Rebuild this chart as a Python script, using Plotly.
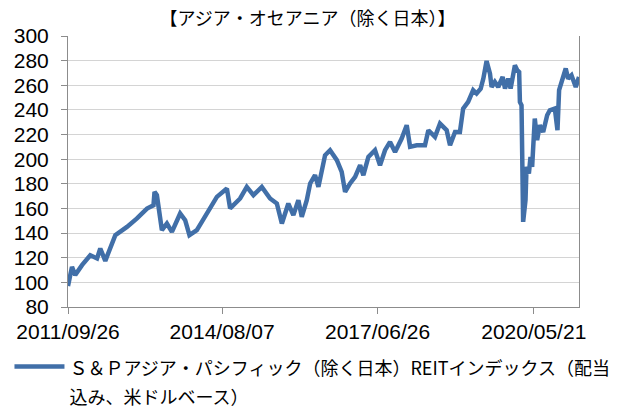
import plotly.graph_objects as go

title_text = "【アジア・オセアニア（除く日本）】"
legend_line1 = "Ｓ＆Ｐアジア・パシフィック（除く日本）REITインデックス（配当"
legend_line2 = "込み、米ドルベース）"

dates = [
    "2011-09-26", "2011-10-23", "2011-11-14", "2011-12-30", "2012-02-24", "2012-04-10",
    "2012-05-02", "2012-06-05", "2012-08-12", "2012-10-30", "2013-01-06", "2013-03-15",
    "2013-04-28", "2013-05-05", "2013-05-21", "2013-06-24", "2013-07-28", "2013-08-31",
    "2013-10-26", "2013-11-29", "2013-12-28", "2014-02-16", "2014-03-22", "2014-05-06",
    "2014-07-02", "2014-09-08", "2014-09-30", "2014-12-07", "2015-01-21", "2015-03-07",
    "2015-05-03", "2015-06-28", "2015-08-13", "2015-09-16", "2015-10-30", "2015-12-03",
    "2016-01-06", "2016-01-29", "2016-03-03", "2016-03-26", "2016-04-28", "2016-05-21",
    "2016-07-05", "2016-08-08", "2016-09-23", "2016-10-26", "2016-11-18", "2016-12-22",
    "2017-01-25", "2017-02-28", "2017-03-22", "2017-04-25", "2017-06-09", "2017-07-13",
    "2017-08-16", "2017-09-19", "2017-10-23", "2017-12-07", "2018-01-10", "2018-02-02",
    "2018-03-19", "2018-05-14", "2018-06-06", "2018-07-21", "2018-08-24", "2018-10-08",
    "2018-10-31", "2018-12-04",
    "2019-01-06", "2019-01-28", "2019-03-03", "2019-04-06", "2019-04-29", "2019-05-27",
    "2019-06-14", "2019-07-06", "2019-07-29", "2019-08-09", "2019-08-31", "2019-09-23",
    "2019-10-23", "2019-11-08", "2019-11-30", "2019-12-16", "2020-01-14", "2020-01-30",
    "2020-02-12", "2020-02-17", "2020-02-28", "2020-03-10", "2020-03-26", "2020-04-02",
    "2020-04-18", "2020-04-29", "2020-05-10", "2020-05-28", "2020-06-13", "2020-07-01",
    "2020-07-24", "2020-08-20", "2020-09-07", "2020-10-11", "2020-10-29", "2020-11-09",
    "2020-11-25", "2020-12-24", "2021-01-09", "2021-02-01", "2021-03-02", "2021-03-24",
]

index_values = [
    97.0, 112.6, 105.9, 114.0, 122.0, 119.4,
    127.5, 117.5, 138.3, 145.0, 151.9, 159.9,
    162.6, 173.5, 170.8, 142.4, 147.8, 141.0,
    155.9, 150.5, 138.3, 142.4, 149.1, 158.6,
    169.4, 176.2, 160.0, 168.1, 177.5, 170.8,
    177.5, 168.1, 164.0, 147.8, 164.0, 154.6,
    166.7, 153.2, 166.7, 180.3, 187.0, 177.5,
    203.2, 207.3, 199.2, 189.7, 173.5, 180.3,
    185.6, 195.1, 187.0, 201.8, 207.3, 195.1,
    207.3, 214.0, 205.9, 216.8, 227.6, 210.0,
    211.3, 211.3, 223.5, 218.1, 228.9, 223.5,
    211.3, 222.1,
    222.1, 241.1, 246.5, 256.0, 253.3, 257.3,
    265.4, 279.7, 269.5, 258.6, 262.7, 258.6,
    266.8, 257.3, 265.4, 257.3, 276.2, 272.2,
    270.8, 246.5, 243.8, 149.1, 166.7, 193.7,
    188.4, 201.8, 193.7, 233.0, 215.4, 227.6,
    222.1, 235.7, 239.7, 241.1, 223.5, 256.0,
    261.4, 273.6, 265.4, 268.1, 258.6, 266.8,
]

x_tick_dates = ["2011-09-26", "2014-08-07", "2017-06-26", "2020-05-21"]
x_tick_labels = ["2011/09/26", "2014/08/07", "2017/06/26", "2020/05/21"]
y_ticks = list(range(80, 301, 20))

FONT = "Liberation Sans, Arial, Noto Sans CJK JP, sans-serif"
JFONT = "Noto Sans CJK JP, Liberation Sans, sans-serif"

series_name = ("<span style='font-size:18px'>" + legend_line1 + "</span><br>"
               "<span style='font-size:18px'>" + legend_line2 + "</span>")

fig = go.Figure()
fig.add_trace(go.Scatter(
    x=dates, y=index_values, mode="lines", name=series_name,
    line=dict(color="#416FA8", width=4.5),
))

fig.update_layout(
    width=623, height=408,
    margin=dict(l=68, r=44, t=36, b=101, autoexpand=False),
    paper_bgcolor="white", plot_bgcolor="white",
    title=dict(text=title_text, x=0.4936, xref="container", xanchor="center",
               y=0.953, yref="container", yanchor="middle",
               font=dict(family=JFONT, size=18, color="black")),
    showlegend=True,
    legend=dict(orientation="h", xref="container", yref="container",
                x=0.0152, xanchor="left", y=0.153, yanchor="top",
                itemwidth=50, valign="top", bgcolor="rgba(0,0,0,0)",
                font=dict(family=JFONT, size=22.3, color="black")),
    xaxis=dict(type="date", range=["2011-09-26", "2021-03-24"],
               tickvals=x_tick_dates, ticktext=x_tick_labels,
               showgrid=False, showline=True, linecolor="#8C8C8C", linewidth=1,
               ticks="outside", ticklen=6, tickcolor="#8C8C8C",
               tickfont=dict(family=FONT, size=21, color="black"), zeroline=False),
    yaxis=dict(range=[80, 300], tickvals=y_ticks,
               showgrid=True, gridcolor="#D4D4D4", gridwidth=1,
               showline=True, linecolor="#8C8C8C", linewidth=1, mirror=True,
               ticks="outside", ticklen=6, tickcolor="#8C8C8C", ticklabelstandoff=8,
               tickfont=dict(family=FONT, size=21, color="black"), zeroline=False),
)

fig.write_html("out.html", config={"displayModeBar": False},
               post_script="document.body.style.margin='0px';document.body.style.padding='0px';")
